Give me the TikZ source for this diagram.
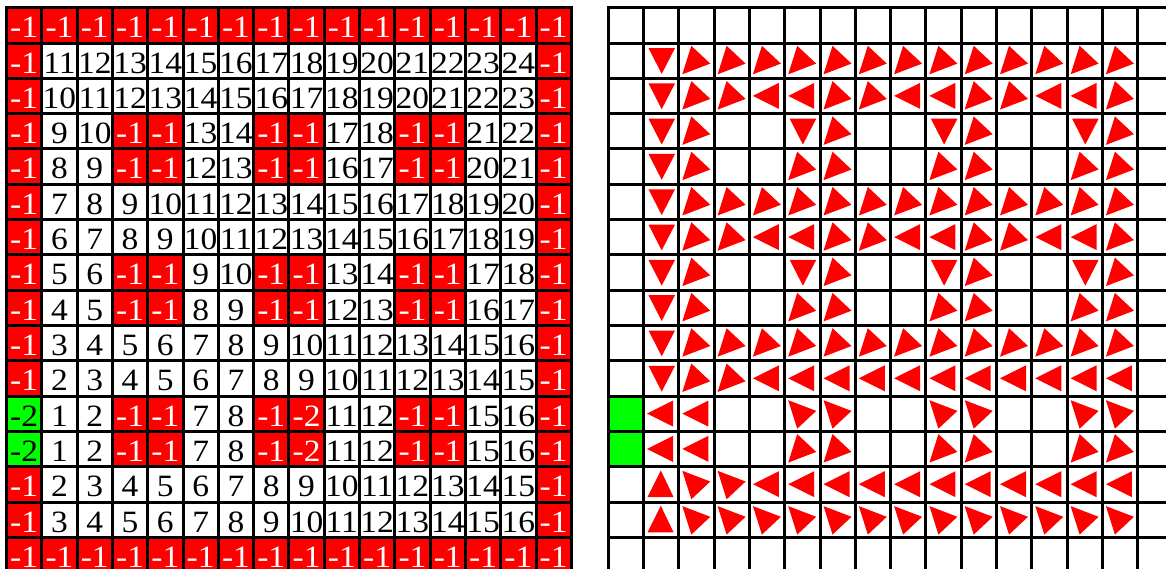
\documentclass[tikz,border=0pt]{standalone}
\usepackage{fontspec}
\setmainfont{Liberation Serif}
\definecolor{cellred}{RGB}{255,0,0}
\definecolor{cellgreen}{RGB}{0,255,0}
\tikzset{
  gridline/.style={line width=3pt, black, line cap=rect},
  celltext/.style={inner sep=0pt, anchor=base, font=\fontsize{31}{31}\selectfont},
  trifill/.style={fill=cellred},
  greenfill/.style={fill=cellgreen},
}
\newcommand\mytriN{}
\newcommand\mytriD{\path[trifill] (5,5) -- (31.5,5) -- (18.2,30.8) -- cycle;}
\newcommand\mytriU{\path[trifill] (17.3,3.7) -- (4,30.3) -- (30,30.3) -- cycle;}
\newcommand\mytriL{\path[trifill] (3.5,17.5) -- (29.5,4.5) -- (29.5,30.5) -- cycle;}
\newcommand\mytriR{\path[trifill] (12.5,2.7) -- (31.5,20.5) -- (3.5,31.2) -- cycle;}
\newcommand\mytriS{\path[trifill] (12.5,32.6) -- (31.5,14.8) -- (3.5,4.1) -- cycle;}
\newcommand\mytriG{\path[greenfill] (0,0) rectangle (35.3,35.3);}
\def\leftdata{
{-1,-1,-1,-1,-1,-1,-1,-1,-1,-1,-1,-1,-1,-1,-1,-1},
{-1,11,12,13,14,15,16,17,18,19,20,21,22,23,24,-1},
{-1,10,11,12,13,14,15,16,17,18,19,20,21,22,23,-1},
{-1,9,10,-1,-1,13,14,-1,-1,17,18,-1,-1,21,22,-1},
{-1,8,9,-1,-1,12,13,-1,-1,16,17,-1,-1,20,21,-1},
{-1,7,8,9,10,11,12,13,14,15,16,17,18,19,20,-1},
{-1,6,7,8,9,10,11,12,13,14,15,16,17,18,19,-1},
{-1,5,6,-1,-1,9,10,-1,-1,13,14,-1,-1,17,18,-1},
{-1,4,5,-1,-1,8,9,-1,-1,12,13,-1,-1,16,17,-1},
{-1,3,4,5,6,7,8,9,10,11,12,13,14,15,16,-1},
{-1,2,3,4,5,6,7,8,9,10,11,12,13,14,15,-1},
{-2,1,2,-1,-1,7,8,-1,-2,11,12,-1,-1,15,16,-1},
{-2,1,2,-1,-1,7,8,-1,-2,11,12,-1,-1,15,16,-1},
{-1,2,3,4,5,6,7,8,9,10,11,12,13,14,15,-1},
{-1,3,4,5,6,7,8,9,10,11,12,13,14,15,16,-1},
{-1,-1,-1,-1,-1,-1,-1,-1,-1,-1,-1,-1,-1,-1,-1,-1}}
\def\rightdata{
{N,N,N,N,N,N,N,N,N,N,N,N,N,N,N,N},
{N,D,R,R,R,R,R,R,R,R,R,R,R,R,R,N},
{N,D,R,R,L,L,R,R,L,L,R,R,L,L,R,N},
{N,D,R,N,N,D,R,N,N,D,R,N,N,D,R,N},
{N,D,R,N,N,R,R,N,N,R,R,N,N,R,R,N},
{N,D,R,R,R,R,R,R,R,R,R,R,R,R,R,N},
{N,D,R,R,L,L,R,R,L,L,R,R,L,L,R,N},
{N,D,R,N,N,D,R,N,N,D,R,N,N,D,R,N},
{N,D,R,N,N,R,R,N,N,R,R,N,N,R,R,N},
{N,D,R,R,R,R,R,R,R,R,R,R,R,R,R,N},
{N,D,R,R,L,L,L,L,L,L,L,L,L,L,L,N},
{G,L,L,N,N,S,S,N,N,S,S,N,N,S,S,N},
{G,L,L,N,N,R,R,N,N,R,R,N,N,R,R,N},
{N,U,S,S,L,L,L,L,L,L,L,L,L,L,L,N},
{N,U,S,S,S,S,S,S,S,S,S,S,S,S,S,N},
{N,N,N,N,N,N,N,N,N,N,N,N,N,N,N,N}}
\begin{document}
\begin{tikzpicture}[x=1pt,y=-1pt]
\useasboundingbox (0,0) rectangle (1166,569);
\clip (0,0) rectangle (1166,569);
% left grid: cell backgrounds
\foreach \row [count=\r from 0] in \leftdata {
  \foreach \v [count=\c from 0] in \row {
    \ifnum\v<0
      \def\bg{cellred}%
      \ifnum\c=0 \ifnum\v=-2 \def\bg{cellgreen}\fi\fi
    \else
      \def\bg{white}%
    \fi
    \fill[\bg] ({6.5+35.3*\c},{7.8+35.3*\r}) rectangle ++(35.3,35.3);
  }
}
% right grid: green cells and triangles
\foreach \row [count=\r from 0] in \rightdata {
  \foreach \t [count=\c from 0] in \row {
    \begin{scope}[shift={({608.2+35.3*\c},{7.8+35.3*\r})}]
      \csname mytri\t\endcsname
    \end{scope}
  }
}
% grid lines
\foreach \i in {0,...,16} {
  \draw[gridline] ({6.5+35.3*\i},7.8) -- ++(0,564.8);
  \draw[gridline] (6.5,{7.8+35.3*\i}) -- ++(564.8,0);
  \draw[gridline] ({608.2+35.3*\i},7.8) -- ++(0,564.8);
  \draw[gridline] (608.2,{7.8+35.3*\i}) -- ++(564.8,0);
}
% left grid: numbers
\foreach \row [count=\r from 0] in \leftdata {
  \foreach \v [count=\c from 0] in \row {
    \ifnum\v<0
      \def\fg{white}%
      \ifnum\c=0 \ifnum\v=-2 \def\fg{black}\fi\fi
    \else
      \def\fg{black}%
    \fi
    \node[celltext, text=\fg] (L-\r-\c) at ({6.5+35.3*\c+17.65},{7.8+35.3*\r+30}) {\scalebox{1.08}[1]{\v}};
  }
}
\end{tikzpicture}
\end{document}
